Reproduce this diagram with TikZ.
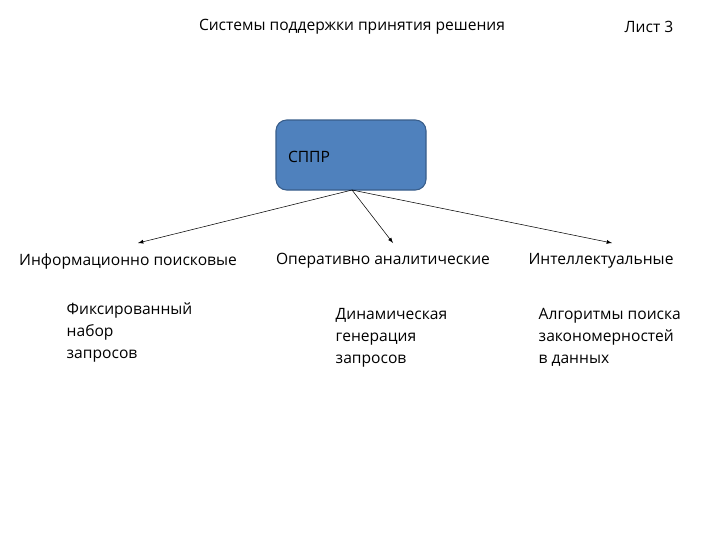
\documentclass[tikz,border=0pt]{standalone}
\usepackage{fontspec}
\setmainfont{Open Sans}
\definecolor{boxblue}{HTML}{4F81BD}
\definecolor{boxedge}{HTML}{385D8A}
\begin{document}
\begin{tikzpicture}[x=0.75pt,y=-0.75pt,
  lbl/.style={font=\fontsize{11.7}{16.5}\selectfont},
  sub/.style={lbl,align=left,anchor=north west},
  arr/.style={-latex,thin}]
\useasboundingbox (0,0) rectangle (720,540);

\node[lbl] (title) at (352,27) {Системы поддержки принятия решения};
\node[lbl] (sheet) at (649,27) {Лист 3};

% root box
\draw[fill=boxblue,draw=boxedge,rounded corners=8pt,thick] (276,120) rectangle (426,190);
\node[lbl] (root) at (309,157) {СППР};
\coordinate (top) at (352,190);

\coordinate (e1) at (138,243);
\coordinate (e2) at (393,243);
\coordinate (e3) at (612,243);
\draw[arr] (top) -- (e1);
\draw[arr] (top) -- (e2);
\draw[arr] (top) -- (e3);

\node[lbl] (c1) at (128,261) {Информационно поисковые};
\node[lbl] (c2) at (383,261) {Оперативно аналитические};
\node[lbl] (c3) at (601,261) {Интеллектуальные};

\node[sub] (s1) at (62,298) {Фиксированный\\набор\\запросов};
\node[sub] (s2) at (331,304) {Динамическая\\генерация\\запросов};
\node[sub] (s3) at (534,304) {Алгоритмы поиска\\закономерностей\\в данных};
\end{tikzpicture}
\end{document}
